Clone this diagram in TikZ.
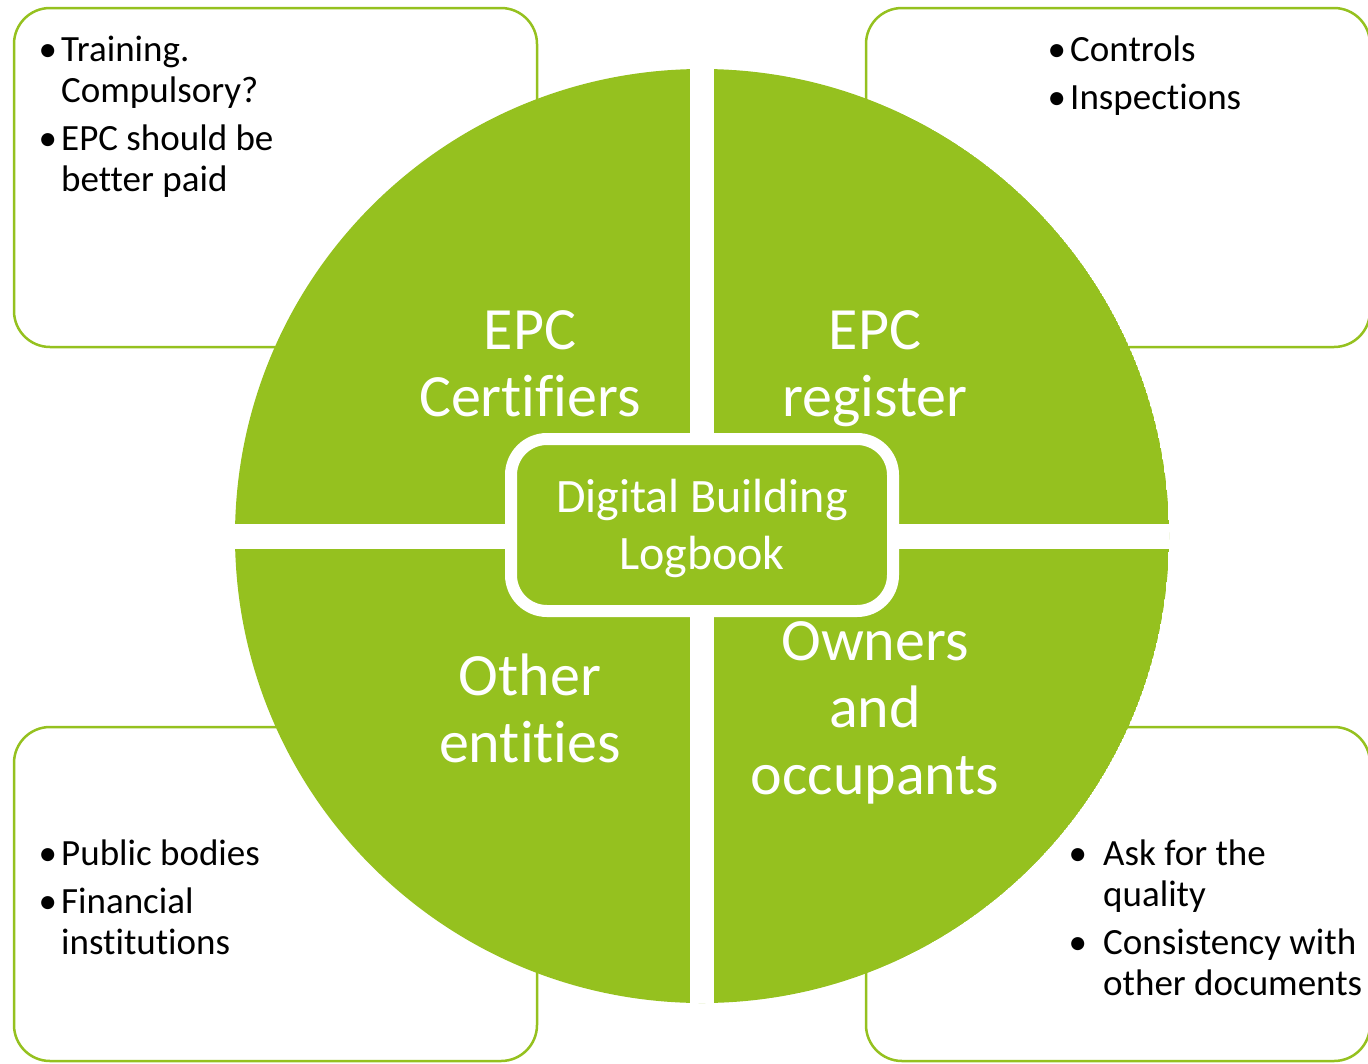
\documentclass[tikz,border=0pt]{standalone}
\usepackage{fontspec}
\setmainfont{Carlito}[Ligatures=NoCommon]
\definecolor{leaf}{RGB}{149,193,31}
% bullet item with hanging indent: #1 = indent, #2 = text
\newcommand{\bitem}[2]{\par\hangindent=#1\hangafter=1\noindent\makebox[#1][l]{\textbullet}\strut#2}
% ragged text with plain word spaces
\newcommand{\notesetup}{\raggedright\spaceskip=0.226em\relax}
\begin{document}
\begin{tikzpicture}[x=1pt,y=-1pt,
  notebox/.style={draw=leaf, line width=2.5pt, fill=white, rounded corners=36pt,
                  inner sep=0pt, outer sep=0pt},
  notes/.style={anchor=north west, inner sep=0pt, text width=#1,
                font=\fontsize{37}{41}\selectfont, text=black},
  quadlabel/.style={text=white, align=center, font=\fontsize{60}{67}\selectfont, inner sep=0pt},
  hub/.style={fill=leaf, draw=white, line width=12pt, rounded corners=36pt,
              minimum width=382pt, minimum height=172pt, inner sep=0pt,
              text=white, align=center, font=\fontsize{48}{57}\selectfont}
]
\useasboundingbox (0,0) rectangle (1368,1063);
\clip (0,0) rectangle (1368,1063);

% four note boxes behind the circle
\node[notebox, minimum width=523pt, minimum height=339pt] (boxTL) at (275.5,177.5) {};
\node[notebox, minimum width=504pt, minimum height=339pt] (boxTR) at (1118,177.5) {};
\node[notebox, minimum width=523pt, minimum height=334pt] (boxBL) at (275.5,894) {};
\node[notebox, minimum width=504pt, minimum height=334pt] (boxBR) at (1118,894) {};

% the circle split into four quadrants
\begin{scope}
  \clip (702,536) circle[radius=467pt];
  \fill[leaf] (702,536) circle[radius=467pt];
  \fill[white] (690,0) rectangle (714,1063);
  \fill[white] (0,524) rectangle (1368,549);
\end{scope}

% quadrant titles
\node[quadlabel] (qTL) at (530,364) {EPC\\Certifiers};
\node[quadlabel] (qTR) at (875,369) {EPC\\register};
\node[quadlabel] (qBL) at (530,708) {Other\\entities};
\node[quadlabel] (qBR) at (875,713) {Owners\\and\\occupants};

% central logbook
\node[hub] (hub) at (702,525) {\parbox{360pt}{\centering\vspace*{6pt}Digital Building\\Logbook}};

% notes in the boxes
\node[notes=300pt] (nTL) at (38.5,20.5) {\notesetup
  \bitem{22.5pt}{Training.\newline Compulsory?}\par\vspace{7pt}
  \bitem{22.5pt}{EPC should be\newline better paid}\par};
\node[notes=300pt] (nTR) at (1047.5,20.5) {\notesetup
  \bitem{22.5pt}{Controls}\par\vspace{7pt}
  \bitem{22.5pt}{Inspections}\par};
\node[notes=300pt] (nBL) at (38.5,824.3) {\notesetup
  \bitem{22.5pt}{Public bodies}\par\vspace{7pt}
  \bitem{22.5pt}{Financial\newline institutions}\par};
\node[notes=320pt] (nBR) at (1068.5,824.3) {\notesetup
  \bitem{34.5pt}{Ask for the\newline quality}\par\vspace{7pt}
  \bitem{34.5pt}{Consistency with\newline other documents}\par};
\end{tikzpicture}
\end{document}
